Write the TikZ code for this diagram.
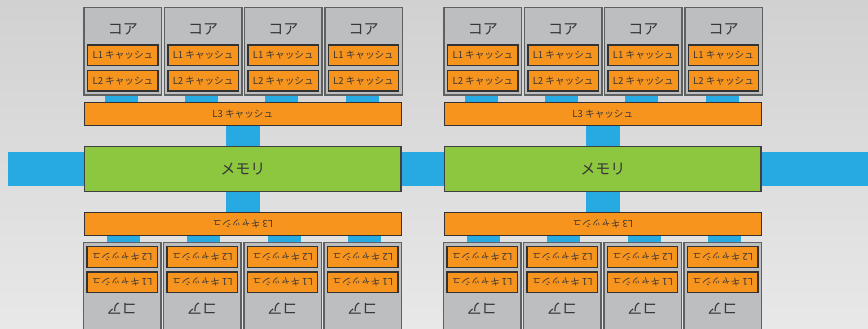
\documentclass[tikz,border=0pt]{standalone}
\usepackage{fontspec}
\newfontfamily\jpfont{Noto Sans CJK JP}
\usetikzlibrary{calc}
\definecolor{cacheorange}{RGB}{247, 148, 30}
\definecolor{memgreen}{RGB}{141, 198, 63}
\definecolor{busblue}{RGB}{39, 170, 225}
\definecolor{coregray}{RGB}{188, 190, 192}
\definecolor{edgegray}{RGB}{95, 96, 98}
\definecolor{inkgray}{RGB}{55, 55, 55}
\pgfdeclarelayer{bg}
\pgfdeclarelayer{bus}
\pgfsetlayers{bg,bus,main}

% one half of a chip: four cores and the shared L3, origin at the memory centre
\newcommand{\halfchip}[1]{%
  \foreach \i in {0,...,3} {
    \node[core] (#1c\i) at ({-119.9+80.2*\i},-117.5) {};
    \node[coretext] (#1t\i) at ({-119.9+80.2*\i},-139.7) {コア};
    \node[cache] (#1a\i) at ({-119.9+80.2*\i},-113.4) {L1 キャッシュ};
    \node[cache] (#1b\i) at ({-119.9+80.2*\i},-88) {L2 キャッシュ};
  }
  \node[cache, minimum width=317.2pt, minimum height=22.7pt] (#1l3) at (0,-55) {L3 キャッシュ};
  \begin{pgfonlayer}{bus}
    \foreach \i in {0,...,3}
      \draw[bus, line width=33pt] ([xshift=-1.5pt]#1c\i.south) -- ([xshift=-1.5pt]#1c\i.south |- #1l3.north);
  \end{pgfonlayer}
}

\begin{document}
\begin{tikzpicture}[
    x=1pt, y=-1pt,
    core/.style={draw=edgegray, fill=coregray, line width=1.5pt,
                 minimum width=77.5pt, minimum height=87.5pt, inner sep=0pt},
    coretext/.style={font=\jpfont\fontsize{15}{16}\selectfont, text=inkgray, inner sep=0pt},
    cache/.style={draw=black!80, fill=cacheorange, line width=1.3pt,
                  minimum width=70.4pt, minimum height=20.7pt, inner sep=0pt,
                  font=\jpfont\fontsize{9.6}{10}\selectfont, text=inkgray},
    mem/.style={draw=black!75, fill=memgreen, line width=1.5pt,
                minimum width=316.5pt, minimum height=45pt, inner sep=0pt,
                font=\jpfont\fontsize{15}{16}\selectfont, text=inkgray},
    bus/.style={draw=busblue, line cap=butt},
  ]
  \useasboundingbox (0,0) rectangle (868,329);
  \begin{pgfonlayer}{bg}
    \fill[top color=black!18, bottom color=black!9] (0,0) rectangle (868,329);
  \end{pgfonlayer}

  % memories
  \node[mem] (meml) at (242.8,168.8) {メモリ};
  \node[mem] (memr) at (602.8,168.8) {メモリ};

  % chip halves
  \begin{scope}[shift={(242.8,168.8)}]
    \halfchip{tl}
  \end{scope}
  \begin{scope}[shift={(602.8,168.8)}]
    \halfchip{tr}
  \end{scope}
  \begin{scope}[shift={(242.8,168.8)}, rotate=180, transform shape]
    \halfchip{bl}
  \end{scope}
  \begin{scope}[shift={(602.8,168.8)}, rotate=180, transform shape]
    \halfchip{br}
  \end{scope}

  % memory bus
  \coordinate (busl) at (8,168.8);
  \coordinate (busr) at (868,168.8);
  \begin{pgfonlayer}{bus}
    \draw[bus, line width=33.6pt] (busl) -- (meml.west);
    \draw[bus, line width=33.6pt] (meml.east) -- (memr.west);
    \draw[bus, line width=33.6pt] (memr.east) -- (busr);
    \draw[bus, line width=34pt] (tll3) -- (meml);
    \draw[bus, line width=34pt] (bll3) -- (meml);
    \draw[bus, line width=34pt] (trl3) -- (memr);
    \draw[bus, line width=34pt] (brl3) -- (memr);
  \end{pgfonlayer}
\end{tikzpicture}
\end{document}
